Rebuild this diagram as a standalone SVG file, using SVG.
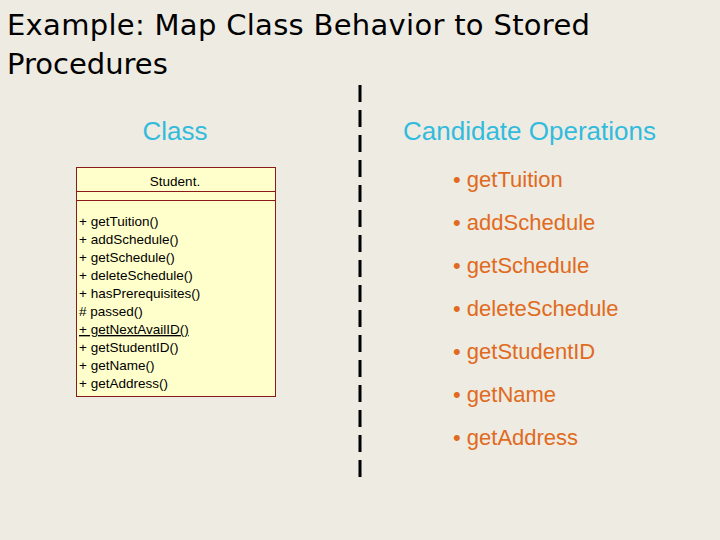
<svg xmlns="http://www.w3.org/2000/svg" width="720" height="540" viewBox="0 0 720 540">
<style>
.t{font-family:"DejaVu Sans",sans-serif;font-size:29px;fill:#000}
.h{font-family:"Liberation Sans",Arial,sans-serif;font-size:26px;fill:#33bbdd}
.m{font-family:"Liberation Sans",Arial,sans-serif;font-size:13.5px;fill:#000}
.o{font-family:"Liberation Sans",Arial,sans-serif;font-size:22px;fill:#e06a20}
</style>
<rect width="720" height="540" fill="#eeebe2"/>
<text class="t" x="7" y="35" textLength="583">Example: Map Class Behavior to Stored</text>
<text class="t" x="7" y="74">Procedures</text>
<text class="h" x="175" y="140" text-anchor="middle">Class</text>
<text class="h" x="403" y="140">Candidate Operations</text>
<g id="connectors"><line x1="360" y1="85" x2="360" y2="484" stroke="#000" stroke-width="3" stroke-dasharray="17,8"/></g>
<g id="student">
<rect x="76.5" y="167.5" width="199" height="229" fill="#ffffcc" stroke="#8b1a1a"/>
<line x1="76.5" y1="191.5" x2="275.5" y2="191.5" stroke="#8b1a1a"/>
<line x1="76.5" y1="200.5" x2="275.5" y2="200.5" stroke="#8b1a1a"/>
<text class="m" x="175" y="186" text-anchor="middle">Student.</text>
<text class="m" x="79" y="226">+ getTuition()</text>
<text class="m" x="79" y="244">+ addSchedule()</text>
<text class="m" x="79" y="262">+ getSchedule()</text>
<text class="m" x="79" y="280">+ deleteSchedule()</text>
<text class="m" x="79" y="298">+ hasPrerequisites()</text>
<text class="m" x="79" y="316"># passed()</text>
<text class="m" x="79" y="334" text-decoration="underline">+ getNextAvailID()</text>
<text class="m" x="79" y="352">+ getStudentID()</text>
<text class="m" x="79" y="370">+ getName()</text>
<text class="m" x="79" y="388">+ getAddress()</text>
</g>
<g id="ops">
<text class="o" x="453" y="187">• getTuition</text>
<text class="o" x="453" y="230">• addSchedule</text>
<text class="o" x="453" y="273">• getSchedule</text>
<text class="o" x="453" y="316">• deleteSchedule</text>
<text class="o" x="453" y="359">• getStudentID</text>
<text class="o" x="453" y="402">• getName</text>
<text class="o" x="453" y="445">• getAddress</text>
</g>
</svg>
